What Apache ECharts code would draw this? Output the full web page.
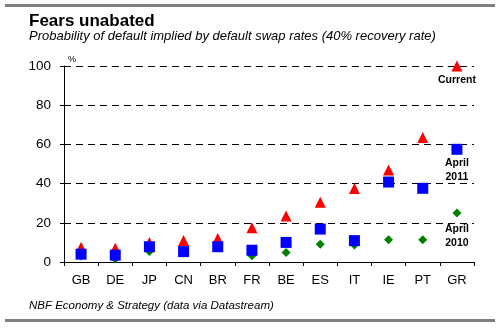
<!DOCTYPE html>
<html><head><meta charset="utf-8">
<script src="https://cdn.jsdelivr.net/npm/echarts@6/dist/echarts.min.js"></script>
<style>html,body{margin:0;padding:0;background:#fff}#c{width:503px;height:328px}</style>
</head><body><div id="c"></div>
<script>
const categories = ['GB','DE','JP','CN','BR','FR','BE','ES','IT','IE','PT','GR'];
const current = [7.5, 7, 10, 11, 12, 17.5, 23.5, 30.5, 37.5, 47, 63.5, 100];
const april2011 = [4, 3.5, 7.8, 5.3, 7.8, 6, 10, 16.8, 10.9, 40.8, 37.6, 57.5];
const april2010 = [3, 1.5, 5.3, 5, 7.5, 3.2, 4.8, 9, 8.7, 11.4, 11.4, 25];
const yTicks = [0, 20, 40, 60, 80, 100];
const seriesLabels = ['Current', 'April\n2011', 'April\n2010'];

const chart = echarts.init(document.getElementById('c'), null, {renderer: 'canvas'});
const lblFont = "'Liberation Sans Narrow','Liberation Sans',Arial,sans-serif";
function endLabel(text, dist) {
  return {
    show: true, position: 'bottom', distance: dist,
    formatter: p => p.dataIndex === categories.length - 1 ? text : '',
    color: '#000', fontSize: 10.5, fontWeight: 'bold', fontFamily: lblFont, lineHeight: 14
  };
}
chart.setOption({
  animation: false,
  textStyle: {fontFamily: "'Liberation Sans', Arial, sans-serif"},
  graphic: [
    {type: 'rect', shape: {x: 5, y: 4, width: 490, height: 3}, style: {fill: '#808080'}},
    {type: 'rect', shape: {x: 5, y: 319, width: 490, height: 3}, style: {fill: '#808080'}},
    {type: 'text', left: 29, top: 13, style: {text: 'Fears unabated', font: "bold 17px 'Liberation Sans', Arial, sans-serif", fill: '#000'}},
    {type: 'text', left: 29, top: 30, style: {text: 'Probability of default implied by default swap rates (40% recovery rate)', font: "italic 13px 'Liberation Sans', Arial, sans-serif", fill: '#000'}},
    {type: 'text', left: 29, top: 300, style: {text: 'NBF Economy & Strategy (data via Datastream)', font: "italic 11.5px 'Liberation Sans', Arial, sans-serif", fill: '#000'}}
  ],
  grid: {left: 64, right: 29, top: 66, bottom: 66},
  xAxis: {
    type: 'category', data: categories, boundaryGap: true,
    axisLine: {lineStyle: {color: '#000', width: 1}},
    axisTick: {show: true, length: 4, alignWithLabel: false, lineStyle: {color: '#000'}},
    axisLabel: {color: '#000', fontSize: 13, margin: 12, interval: 0}
  },
  yAxis: {
    type: 'value', min: yTicks[0], max: yTicks[yTicks.length - 1], interval: 20,
    name: '%', nameLocation: 'end', nameGap: 2,
    nameTextStyle: {color: '#000', fontSize: 9, align: 'left', padding: [0, 0, 0, 4]},
    axisLine: {show: true, lineStyle: {color: '#000', width: 1}},
    axisTick: {show: true, length: 4, lineStyle: {color: '#000'}},
    axisLabel: {color: '#000', fontSize: 13.5, margin: 13},
    splitLine: {show: true, lineStyle: {color: '#000', type: [7, 5], width: 1}}
  },
  series: [
    {name: 'Current', type: 'scatter', data: current, symbol: 'triangle', symbolSize: 11,
     itemStyle: {color: '#FF0000', opacity: 1}, label: endLabel(seriesLabels[0], 2), z: 2},
    {name: 'April 2010', type: 'scatter', data: april2010, symbol: 'diamond', symbolSize: 9,
     itemStyle: {color: '#008000', opacity: 1}, label: endLabel(seriesLabels[2], 5), z: 3},
    {name: 'April 2011', type: 'scatter', data: april2011, symbol: 'rect', symbolSize: 11,
     itemStyle: {color: '#0000FF', opacity: 1}, label: endLabel(seriesLabels[1], 1), z: 4}
  ]
});
</script></body></html>
